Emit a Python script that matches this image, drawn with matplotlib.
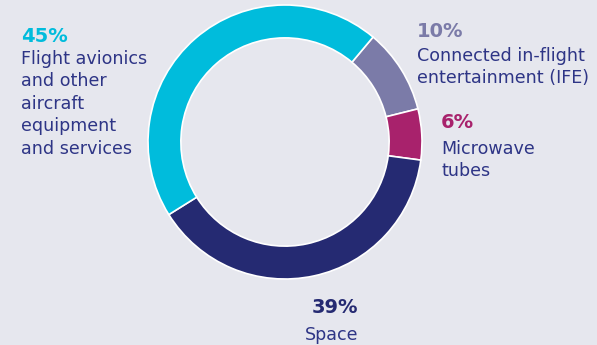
import matplotlib
matplotlib.use("Agg")
import matplotlib.pyplot as plt

W, H = 597, 345
BG = "#E6E7EE"

categories = ["Connected in-flight\nentertainment (IFE)", "Microwave\ntubes", "Space",
              "Flight avionics\nand other\naircraft\nequipment\nand services"]
values = [10, 6, 39, 45]
pct_labels = ["10%", "6%", "39%", "45%"]
colors = ["#7B7BA8", "#A8226C", "#252A72", "#00BCDC"]
TEXT = "#2E3586"

plt.rcParams["font.family"] = ["DejaVu Sans"]

fig = plt.figure(figsize=(W / 100, H / 100), dpi=100, facecolor=BG)

cx, cy, R = 285, 142, 137
ax = fig.add_axes([(cx - R) / W, (H - cy - R) / H, 2 * R / W, 2 * R / H])
ax.set_facecolor(BG)
ax.pie(values, colors=colors, startangle=50, counterclock=False,
       radius=1.0, wedgeprops=dict(width=0.24, edgecolor="white", linewidth=1.2))
ax.set_xlim(-1, 1)
ax.set_ylim(-1, 1)
ax.set_aspect("equal")
ax.axis("off")

def px(x, y):
    return x / W, 1 - y / H

# label layout: (x, baseline of pct, first line baseline, line step, ha)
layout = [
    (417, 37, 61, 22, "left"),
    (441, 128, 154, 22, "left"),
    (358, 313, 340, 22, "right"),
    (21, 42, 64, 22.4, "left"),
]

for cat, pct, col, (x, yp, y0, step, ha) in zip(categories, pct_labels, colors, layout):
    fig.text(*px(x, yp), pct, color=col, fontsize=14, fontweight="bold",
             ha=ha, va="baseline")
    for i, line in enumerate(cat.split("\n")):
        fig.text(*px(x, y0 + i * step), line, color=TEXT, fontsize=12.6,
                 ha=ha, va="baseline")

fig.savefig("out.png", dpi=100, facecolor=BG)
